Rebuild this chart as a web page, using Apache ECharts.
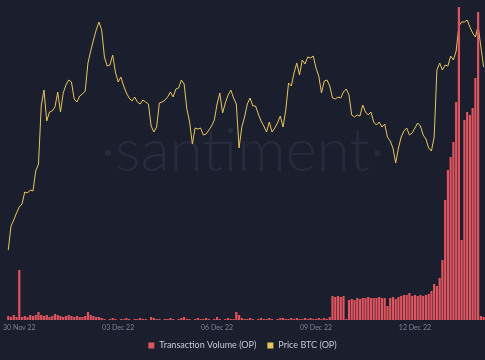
<!DOCTYPE html>
<html>
<head>
<meta charset="utf-8">
<script src="https://cdn.jsdelivr.net/npm/echarts@6/dist/echarts.min.js"></script>
<style>
html,body{margin:0;padding:0;background:#1b1e2d;}
#chart{width:485px;height:360px;}
</style>
</head>
<body>
<div id="chart"></div>
<script>
// 2-hour buckets starting 29 Nov 2022 16:00 UTC
const startTime = Date.UTC(2022, 10, 29, 16, 0);
const stepHours = 2;
const tickLabels = ['30 Nov 22', '03 Dec 22', '06 Dec 22', '09 Dec 22', '12 Dec 22'];
const monthNames = ['Jan','Feb','Mar','Apr','May','Jun','Jul','Aug','Sep','Oct','Nov','Dec'];

// Price BTC (OP), in µBTC
const priceBTC = [
  47.0,49.4,50.0,50.7,51.3,51.6,52.8,52.7,53.0,52.9,
  54.9,55.6,61.4,63.0,59.9,60.8,60.9,61.3,62.8,60.8,
  62.7,63.5,64.0,63.8,62.1,61.8,62.4,62.6,62.9,65.7,
  66.9,68.0,69.0,69.8,69.0,66.3,65.4,65.5,66.5,64.8,
  63.8,64.3,63.4,62.7,62.2,61.9,62.3,61.8,61.6,62.0,
  61.8,61.6,59.4,58.8,59.3,61.7,61.8,62.0,62.3,62.8,
  62.3,63.1,63.2,64.0,63.6,61.1,59.8,57.6,59.2,59.1,
  59.2,58.5,58.6,59.0,59.4,60.0,61.6,62.7,60.7,61.7,
  62.5,63.0,62.2,61.6,57.2,59.3,60.3,61.6,62.2,61.4,
  61.4,60.6,59.9,59.4,58.8,59.8,58.8,59.2,59.7,60.4,
  59.3,61.0,63.7,63.4,64.7,65.7,64.5,66.0,65.6,66.3,
  66.2,66.4,65.2,64.4,62.7,63.9,64.0,63.4,62.2,62.1,
  62.3,62.2,62.8,63.1,62.5,60.5,60.3,60.5,60.4,61.5,
  60.8,60.5,60.8,59.8,59.5,59.8,59.3,59.6,58.3,57.9,
  57.2,55.7,57.2,58.3,58.9,59.2,58.5,58.7,59.2,59.7,
  59.4,58.5,58.1,57.2,56.9,58.3,65.0,65.7,65.0,65.5,
  65.4,66.4,66.0,66.9,69.4,69.8,69.8,70.0,69.3,68.7,
  68.3,69.4,67.3,65.3
];

// Transaction Volume (OP), in 10k OP
const txVolume = [
  4,3,5,3,50,3,4,3,5,4,
  5,8,5,4,5,3,4,6,5,4,
  3,4,5,4,3,4,3,3,4,8,
  5,4,3,3,2,
  1,0,1,2,1,0,1,1,2,1,
  0,1,1,2,1,1,0,3,2,1,
  1,0,1,1,2,1,0,1,2,3,
  1,1,0,1,2,1,1,2,1,0,
  1,3,1,0,1,2,1,1,8,5,
  2,1,1,2,1,0,1,2,1,1,
  2,1,0,1,2,2,1,1,2,1,
  2,1,1,2,1,2,1,1,2,1,2,1,
  3,
  24,23,24,23,24,
  1,
  20,21,20,22,21,22,22,23,22,22,22,23,
  22,22,14,22,23,21,23,24,25,25,27,24,25,24,25,24,25,26,29,36,34,42,
  60,120,150,163,178,218,313,80,200,208,205,212,242,308,4,3
];

const categories = [];
for (let i = 0; i < priceBTC.length; i++) {
  const d = new Date(startTime + i * stepHours * 3600 * 1000);
  const dd = String(d.getUTCDate()).padStart(2, '0');
  const hh = String(d.getUTCHours()).padStart(2, '0');
  categories.push(dd + ' ' + monthNames[d.getUTCMonth()] + ' ' + String(d.getUTCFullYear()).slice(2) + ' ' + hh + ':00');
}

const chart = echarts.init(document.getElementById('chart'), null, {renderer: 'canvas'});
chart.setOption({
  backgroundColor: '#1b1e2d',
  animation: false,
  graphic: [{
    type: 'text',
    left: 'center',
    top: 122,
    z: 0,
    silent: true,
    style: {
      text: '·santiment·',
      font: '300 60px Lato',
      fill: '#272b3c'
    }
  }],
  grid: {left: 0, right: 0, top: 0, bottom: 40},
  legend: {
    data: ['Transaction Volume (OP)', 'Price BTC (OP)'],
    bottom: 5,
    left: 'center',
    icon: 'rect',
    itemWidth: 6,
    itemHeight: 6,
    itemGap: 11,
    textStyle: {color: '#c8cbd5', fontSize: 9, fontFamily: 'Lato'}
  },
  xAxis: {
    type: 'category',
    data: categories,
    boundaryGap: true,
    axisLine: {show: false},
    axisTick: {show: false},
    splitLine: {show: false},
    axisLabel: {
      color: '#7d8294',
      fontSize: 7,
      fontFamily: 'Lato',
      margin: 4,
      interval: function (index, value) {
        return value.slice(10) === '00:00' && tickLabels.indexOf(value.slice(0, 9)) !== -1;
      },
      formatter: function (value) { return value.slice(0, 9); }
    }
  },
  yAxis: [
    {type: 'value', min: 0, max: 320, show: false, splitLine: {show: false}},
    {type: 'value', min: 40, max: 72, show: false, splitLine: {show: false}}
  ],
  series: [
    {
      name: 'Transaction Volume (OP)',
      type: 'bar',
      data: txVolume,
      yAxisIndex: 0,
      z: 3,
      barCategoryGap: '20%',
      itemStyle: {color: '#e0545f'}
    },
    {
      name: 'Price BTC (OP)',
      type: 'line',
      data: priceBTC,
      yAxisIndex: 1,
      z: 2,
      showSymbol: false,
      lineStyle: {color: '#e6c65c', width: 1},
      itemStyle: {color: '#e6c65c'}
    }
  ]
});
</script>
</body>
</html>
